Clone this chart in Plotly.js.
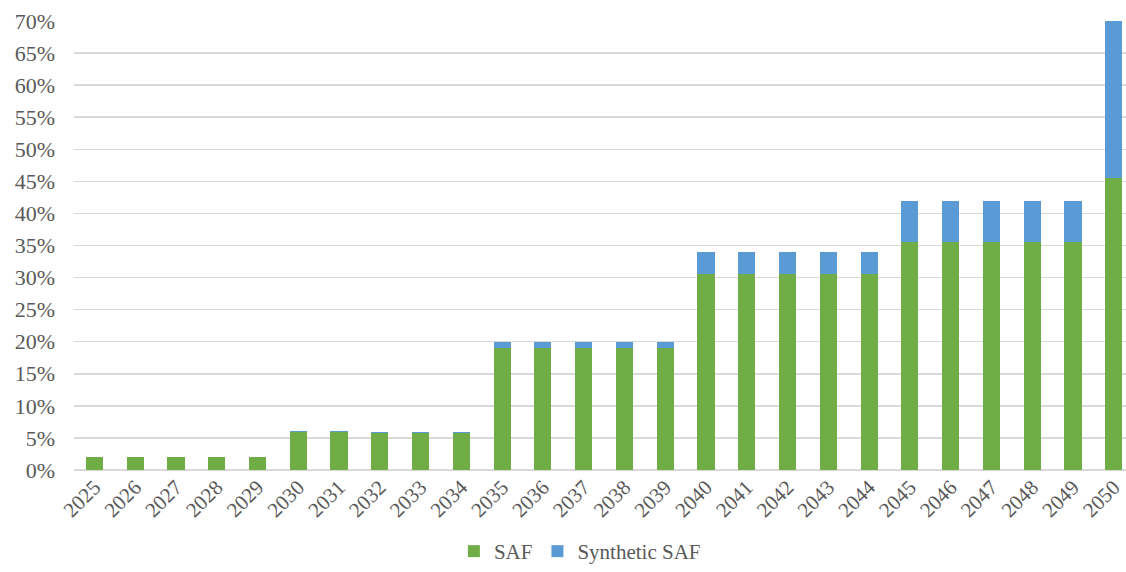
<!DOCTYPE html>
<html>
<head>
<meta charset="utf-8">
<script src="https://cdn.plot.ly/plotly-3.0.1.min.js"></script>
<style>
  html, body { margin: 0; padding: 0; background: #ffffff; }
  #chart { width: 1126px; height: 572px; }
</style>
</head>
<body>
<div id="chart"></div>
<script>
// Blending mandate by year, in percent of fuel supplied
const years = ['2025','2026','2027','2028','2029','2030','2031','2032','2033','2034',
               '2035','2036','2037','2038','2039','2040','2041','2042','2043','2044',
               '2045','2046','2047','2048','2049','2050'];
const safShare = [2, 2, 2, 2, 2, 5.9, 5.9, 5.8, 5.8, 5.8,
                  19, 19, 19, 19, 19, 30.6, 30.6, 30.6, 30.6, 30.6,
                  35.6, 35.6, 35.6, 35.6, 35.6, 45.5];
const syntheticShare = [0, 0, 0, 0, 0, 0.2, 0.2, 0.1, 0.1, 0.1,
                        1, 1, 1, 1, 1, 3.4, 3.4, 3.4, 3.4, 3.4,
                        6.4, 6.4, 6.4, 6.4, 6.4, 24.5];
const yTicks = [0, 5, 10, 15, 20, 25, 30, 35, 40, 45, 50, 55, 60, 65, 70];

const fontFamily = '"Liberation Serif", "DejaVu Serif", serif';
const textColor = '#595959';

const traces = [
  {
    type: 'bar', name: 'SAF', x: years, y: safShare,
    marker: { color: '#70AD47', line: { width: 0 } },
    hoverinfo: 'x+y+name'
  },
  {
    type: 'bar', name: 'Synthetic SAF', x: years, y: syntheticShare,
    marker: { color: '#5B9BD5', line: { width: 0 } },
    hoverinfo: 'x+y+name'
  }
];

const layout = {
  width: 1126, height: 572,
  margin: { l: 74, r: 0, t: 21, b: 102 },
  paper_bgcolor: '#ffffff', plot_bgcolor: '#ffffff',
  barmode: 'stack',
  bargap: 0.58,
  font: { family: fontFamily, size: 21, color: textColor },
  xaxis: {
    type: 'category',
    range: [-0.5, 25.3],
    tickangle: -45,
    automargin: false,
    showgrid: false,
    showline: false,
    zeroline: false,
    ticks: '',
    tickfont: { family: fontFamily, size: 21, color: textColor }
  },
  yaxis: {
    range: [0, 70],
    tickvals: yTicks,
    ticktext: yTicks.map(v => v + '%'),
    automargin: false,
    showgrid: true,
    gridcolor: '#d9d9d9',
    gridwidth: 1.5,
    zeroline: true,
    zerolinecolor: '#d9d9d9',
    zerolinewidth: 1.5,
    showline: false,
    ticks: '',
    ticklabelstandoff: 18,
    tickfont: { family: fontFamily, size: 22, color: textColor }
  },
  legend: {
    orientation: 'h',
    xref: 'container', yref: 'container',
    x: 0.515, xanchor: 'center',
    y: -0.014, yanchor: 'bottom',
    font: { family: fontFamily, size: 21, color: textColor },
    itemwidth: 30,
    traceorder: 'normal'
  },
  showlegend: true
};

Plotly.newPlot('chart', traces, layout, { displayModeBar: false, staticPlot: true });
</script>
</body>
</html>
